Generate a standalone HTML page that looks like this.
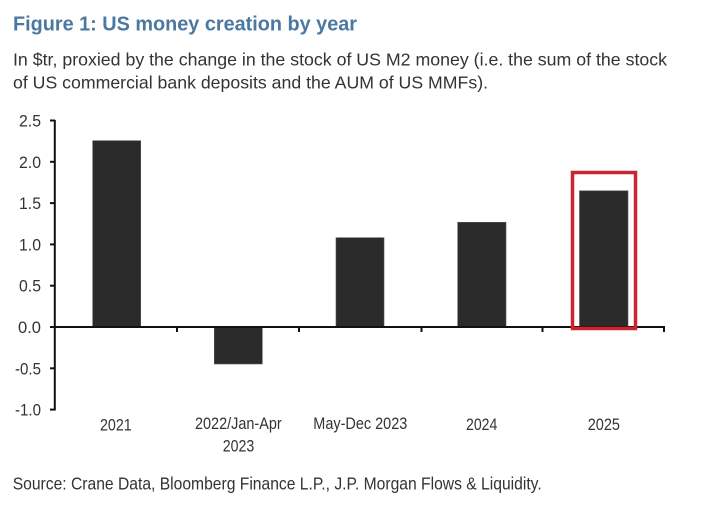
<!DOCTYPE html>
<html>
<head>
<meta charset="utf-8">
<style>
  html,body{margin:0;padding:0;background:#fff;}
  svg{display:block;}
  text{font-family:"Liberation Sans",Arial,sans-serif;}
</style>
</head>
<body>
<svg width="710" height="506" viewBox="0 0 710 506" xmlns="http://www.w3.org/2000/svg">
  <rect x="0" y="0" width="710" height="506" fill="#fff"/>
  <!-- Title -->
  <text x="13" y="30.5" font-size="20.5" font-weight="bold" fill="#4a78a0" textLength="344" lengthAdjust="spacingAndGlyphs">Figure 1: US money creation by year</text>
  <text x="13" y="65.5" font-size="17.5" fill="#333" textLength="654" lengthAdjust="spacingAndGlyphs">In $tr, proxied by the change in the stock of US M2 money (i.e. the sum of the stock</text>
  <text x="13" y="88.5" font-size="17.5" fill="#333" textLength="475" lengthAdjust="spacingAndGlyphs">of US commercial bank deposits and the AUM of US MMFs).</text>

  <!-- Bars -->
  <g fill="#2b2b2b" stroke="#555" stroke-width="0.6">
    <rect x="92.7" y="140.7" width="48" height="186.3"/>
    <rect x="214.3" y="327" width="48" height="37"/>
    <rect x="336" y="237.7" width="48" height="89.3"/>
    <rect x="457.7" y="222.3" width="48.3" height="104.7"/>
    <rect x="579.5" y="190.8" width="48.5" height="136.2"/>
  </g>

  <!-- Axes -->
  <g stroke="#111" stroke-width="2" fill="none">
    <line x1="54.8" y1="120" x2="54.8" y2="410.5"/>
    <line x1="54" y1="327" x2="665" y2="327"/>
    <!-- y ticks -->
    <line x1="50" y1="120.5" x2="55" y2="120.5"/>
    <line x1="50" y1="161.8" x2="55" y2="161.8"/>
    <line x1="50" y1="203.1" x2="55" y2="203.1"/>
    <line x1="50" y1="244.4" x2="55" y2="244.4"/>
    <line x1="50" y1="285.7" x2="55" y2="285.7"/>
    <line x1="50" y1="327" x2="55" y2="327"/>
    <line x1="50" y1="368.3" x2="55" y2="368.3"/>
    <line x1="50" y1="409.6" x2="55" y2="409.6"/>
    <!-- x ticks -->
    <line x1="177" y1="327" x2="177" y2="332"/>
    <line x1="299" y1="327" x2="299" y2="332"/>
    <line x1="421.5" y1="327" x2="421.5" y2="332"/>
    <line x1="542.5" y1="327" x2="542.5" y2="332"/>
    <line x1="664" y1="327" x2="664" y2="332"/>
  </g>

  <!-- Red highlight box -->
  <rect x="572.5" y="172.5" width="63" height="156" fill="none" stroke="#cc2530" stroke-width="3.5"/>

  <!-- Y labels -->
  <g font-size="17" fill="#333">
    <text x="19" y="126.5" textLength="22" lengthAdjust="spacingAndGlyphs">2.5</text>
    <text x="19" y="167.8" textLength="22" lengthAdjust="spacingAndGlyphs">2.0</text>
    <text x="19" y="209.1" textLength="22" lengthAdjust="spacingAndGlyphs">1.5</text>
    <text x="19" y="250.4" textLength="22" lengthAdjust="spacingAndGlyphs">1.0</text>
    <text x="19" y="291.7" textLength="22" lengthAdjust="spacingAndGlyphs">0.5</text>
    <text x="18" y="333" textLength="23" lengthAdjust="spacingAndGlyphs">0.0</text>
    <text x="15" y="374.3" textLength="26" lengthAdjust="spacingAndGlyphs">-0.5</text>
    <text x="15" y="415.6" textLength="26" lengthAdjust="spacingAndGlyphs">-1.0</text>
  </g>

  <!-- X labels -->
  <g font-size="17" fill="#333">
    <text x="100" y="430.5" textLength="31.7" lengthAdjust="spacingAndGlyphs">2021</text>
    <text x="195" y="429" textLength="86.7" lengthAdjust="spacingAndGlyphs">2022/Jan-Apr</text>
    <text x="222.7" y="451.5" textLength="31.6" lengthAdjust="spacingAndGlyphs">2023</text>
    <text x="313.3" y="429" textLength="94" lengthAdjust="spacingAndGlyphs">May-Dec 2023</text>
    <text x="466" y="430" textLength="31.3" lengthAdjust="spacingAndGlyphs">2024</text>
    <text x="587.7" y="430" textLength="32.3" lengthAdjust="spacingAndGlyphs">2025</text>
  </g>

  <!-- Source -->
  <text x="12.7" y="489.5" font-size="17.5" fill="#333" textLength="529" lengthAdjust="spacingAndGlyphs">Source: Crane Data, Bloomberg Finance L.P., J.P. Morgan Flows &amp; Liquidity.</text>
</svg>
</body>
</html>
